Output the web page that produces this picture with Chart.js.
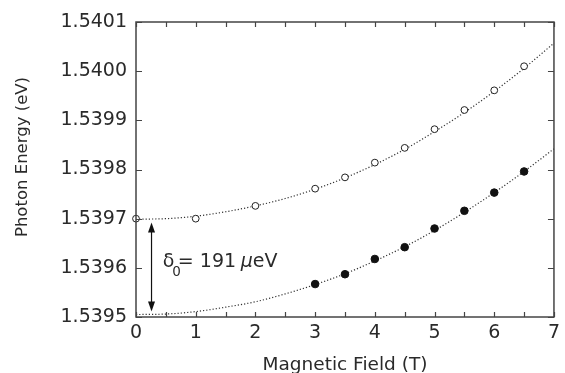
<!DOCTYPE html>
<html>
<head>
<meta charset="utf-8">
<script src="https://cdn.jsdelivr.net/npm/chart.js@4"></script>
<style>
  html, body { margin: 0; padding: 0; background: #fff; }
  #c { display: block; }
</style>
</head>
<body>
<canvas id="c" width="565" height="373"></canvas>
<script>
// ---- data ----
const fieldOpen   = [0, 1, 2, 3, 3.5, 4, 4.5, 5, 5.5, 6, 6.5];
const energyOpen  = [1.539700, 1.539700, 1.539726, 1.539761, 1.539784, 1.539814, 1.539844, 1.539882, 1.539921, 1.539961, 1.540010];
const fieldFilled  = [3, 3.5, 4, 4.5, 5, 5.5, 6, 6.5];
const energyFilled = [1.539567, 1.539587, 1.539618, 1.539642, 1.539680, 1.539716, 1.539753, 1.539796];
const fitField = [0, 0.5, 1, 1.5, 2, 2.5, 3, 3.5, 4, 4.5, 5, 5.5, 6, 6.5, 7];
const fitUpper = [1.539699, 1.539700, 1.539705, 1.539714, 1.539726, 1.539741, 1.539760, 1.539783, 1.539810, 1.539841, 1.539877, 1.539916, 1.539959, 1.540006, 1.540057];
const fitLower = [1.539505, 1.539506, 1.539511, 1.539520, 1.539531, 1.539547, 1.539566, 1.539588, 1.539614, 1.539643, 1.539676, 1.539713, 1.539753, 1.539796, 1.539842];
const xTickValues = [0, 1, 2, 3, 4, 5, 6, 7];
const xMinorTicks = [0.5, 1.5, 2.5, 3.5, 4.5, 5.5, 6.5];
const yTickValues = [1.5395, 1.5396, 1.5397, 1.5398, 1.5399, 1.5400, 1.5401];
const yTickLabels = ['1.5395', '1.5396', '1.5397', '1.5398', '1.5399', '1.5400', '1.5401'];
const xTitle = 'Magnetic Field (T)';
const yTitle = 'Photon Energy (eV)';
const splitArrow = { field: 0.26, top: 1.539692, bottom: 1.539511 };
const splitLabel = { field: 0.45, energy: 1.539602, symbol: 'δ', sub: '0', value: '= 191', unit1: 'μ', unit2: 'eV' };

// ---- styles ----
const FONT = 'DejaVu Sans';
const INK = '#2a2a2a';
const AXIS = '#444';

const pts = (xs, ys) => xs.map((v, i) => ({ x: v, y: ys[i] }));

const decor = {
  id: 'decor',
  afterDraw(chart) {
    const { ctx, chartArea: a, scales: { x, y } } = chart;
    ctx.save();
    // frame
    ctx.strokeStyle = AXIS;
    ctx.lineWidth = 1.5;
    ctx.strokeRect(a.left, a.top, a.right - a.left, a.bottom - a.top);
    // inward ticks
    ctx.lineWidth = 1.2;
    ctx.beginPath();
    xTickValues.concat(xMinorTicks).forEach(v => {
      const px = Math.round(x.getPixelForValue(v)) + 0.5;
      ctx.moveTo(px, a.bottom); ctx.lineTo(px, a.bottom - 5);
      ctx.moveTo(px, a.top); ctx.lineTo(px, a.top + 5);
    });
    yTickValues.forEach(v => {
      const py = Math.round(y.getPixelForValue(v)) + 0.5;
      ctx.moveTo(a.left, py); ctx.lineTo(a.left + 6, py);
      ctx.moveTo(a.right, py); ctx.lineTo(a.right - 6, py);
    });
    ctx.stroke();

    // axis titles
    ctx.fillStyle = INK;
    ctx.font = '18.5px "' + FONT + '"';
    ctx.textAlign = 'center';
    ctx.textBaseline = 'alphabetic';
    ctx.fillText(xTitle, (a.left + a.right) / 2, 370);
    ctx.save();
    ctx.translate(23, 157);
    ctx.rotate(-Math.PI / 2);
    ctx.font = '16.5px "' + FONT + '"';
    ctx.textBaseline = 'middle';
    ctx.fillText(yTitle, 0, 0);
    ctx.restore();

    // double arrow
    const ax = x.getPixelForValue(splitArrow.field);
    const yt = y.getPixelForValue(splitArrow.top);
    const yb = y.getPixelForValue(splitArrow.bottom);
    ctx.strokeStyle = '#111';
    ctx.fillStyle = '#111';
    ctx.lineWidth = 1.2;
    ctx.beginPath();
    ctx.moveTo(ax, yt + 8); ctx.lineTo(ax, yb - 8);
    ctx.stroke();
    ctx.beginPath();
    ctx.moveTo(ax, yt); ctx.lineTo(ax - 3.5, yt + 10); ctx.lineTo(ax + 3.5, yt + 10); ctx.closePath();
    ctx.fill();
    ctx.beginPath();
    ctx.moveTo(ax, yb); ctx.lineTo(ax - 3.5, yb - 10); ctx.lineTo(ax + 3.5, yb - 10); ctx.closePath();
    ctx.fill();

    // label
    const lx = x.getPixelForValue(splitLabel.field);
    const ly = y.getPixelForValue(splitLabel.energy);
    ctx.fillStyle = INK;
    ctx.textAlign = 'left';
    ctx.textBaseline = 'alphabetic';
    ctx.font = '19px "' + FONT + '"';
    ctx.fillText(splitLabel.symbol, lx, ly);
    ctx.font = '13.5px "' + FONT + '"';
    ctx.fillText(splitLabel.sub, lx + 9.5, ly + 9);
    ctx.font = '19px "' + FONT + '"';
    ctx.fillText(splitLabel.value, lx + 15, ly);
    ctx.font = 'italic 19px "' + FONT + '"';
    ctx.fillText(splitLabel.unit1, lx + 78, ly);
    ctx.font = '19px "' + FONT + '"';
    ctx.fillText(splitLabel.unit2, lx + 90, ly);
    ctx.restore();
  }
};

new Chart(document.getElementById('c'), {
  type: 'scatter',
  data: {
    datasets: [
      {
        label: 'upper',
        data: pts(fieldOpen, energyOpen),
        pointStyle: 'circle',
        pointRadius: 3.4,
        pointBackgroundColor: '#fff',
        pointBorderColor: '#222',
        pointBorderWidth: 1,
        showLine: false,
        clip: false
      },
      {
        label: 'lower',
        data: pts(fieldFilled, energyFilled),
        pointStyle: 'circle',
        pointRadius: 3.8,
        pointBackgroundColor: '#111',
        pointBorderColor: '#111',
        pointBorderWidth: 1,
        showLine: false,
        clip: false
      },
      {
        label: 'fit upper',
        data: pts(fitField, fitUpper),
        showLine: true,
        pointRadius: 0,
        borderColor: '#333',
        borderWidth: 1.2,
        borderDash: [1.2, 2],
        cubicInterpolationMode: 'monotone',
        clip: false
      },
      {
        label: 'fit lower',
        data: pts(fitField, fitLower),
        showLine: true,
        pointRadius: 0,
        borderColor: '#333',
        borderWidth: 1.2,
        borderDash: [1.2, 2],
        cubicInterpolationMode: 'monotone',
        clip: false
      }
    ]
  },
  options: {
    responsive: false,
    animation: false,
    devicePixelRatio: 1,
    layout: { padding: { top: 22, right: 11, bottom: 0, left: 0 } },
    plugins: { legend: { display: false }, tooltip: { enabled: false } },
    scales: {
      x: {
        type: 'linear',
        min: 0, max: 7,
        grid: { display: false, drawTicks: false },
        border: { display: false },
        afterBuildTicks: s => { s.ticks = xTickValues.map(v => ({ value: v })); },
        afterFit: s => { s.height = 56; },
        ticks: {
          padding: 5,
          color: INK,
          font: { family: FONT, size: 19 },
          maxRotation: 0,
          callback: v => String(v)
        }
      },
      y: {
        type: 'linear',
        min: 1.5395, max: 1.5401,
        grid: { display: false, drawTicks: false },
        border: { display: false },
        afterBuildTicks: s => { s.ticks = yTickValues.map(v => ({ value: v })); },
        afterFit: s => { s.width = 136; },
        ticks: {
          padding: 9,
          color: INK,
          font: { family: FONT, size: 19 },
          callback: (v, i) => yTickLabels[i]
        }
      }
    }
  },
  plugins: [decor]
});
</script>
</body>
</html>
